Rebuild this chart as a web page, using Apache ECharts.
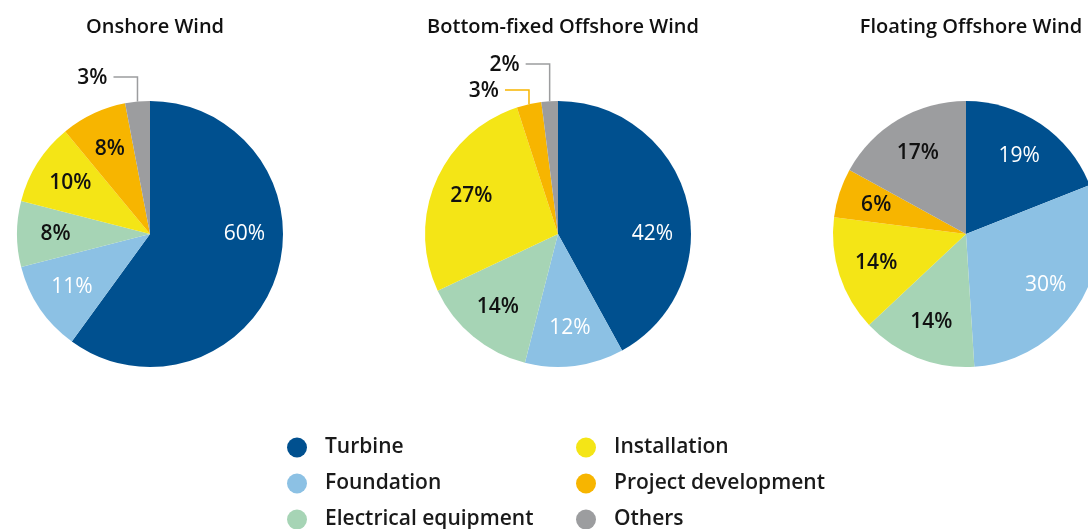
<!DOCTYPE html>
<html>
<head>
<meta charset="utf-8">
<title>Wind cost breakdown</title>
<script src="https://cdn.jsdelivr.net/npm/echarts@6/dist/echarts.min.js"></script>
<style>
  html, body { margin: 0; padding: 0; background: #fff; }
  #chart { width: 1088px; height: 529px; }
</style>
</head>
<body>
<div id="chart"></div>
<script>
const categories = ['Turbine', 'Foundation', 'Electrical equipment', 'Installation', 'Project development', 'Others'];
const onshore = [60, 11, 8, 10, 8, 3];
const bottomFixed = [42, 12, 14, 27, 3, 2];
const floating = [19, 30, 14, 14, 6, 17];
const titles = ['Onshore Wind', 'Bottom-fixed Offshore Wind', 'Floating Offshore Wind'];
const colors = ['#00508f', '#8cc1e4', '#a6d4b5', '#f4e516', '#f7b500', '#9c9d9f'];

const FONT = '"Open Sans", sans-serif';
const R = 133;
const centers = [[150, 234], [558, 234], [966, 234]];
const seriesValues = [onshore, bottomFixed, floating];

// angles clockwise from 12 o'clock
function sliceAngles(values, i) {
  const total = values.reduce((a, b) => a + b, 0);
  let start = 0;
  for (let k = 0; k < i; k++) start += values[k];
  return [start / total * 360, (start + values[i]) / total * 360];
}
function polar(c, r, deg) {
  const a = deg * Math.PI / 180;
  return [c[0] + r * Math.sin(a), c[1] - r * Math.cos(a)];
}
const isSmall = v => v < 5;

function layoutLabel(params) {
  const values = seriesValues[params.seriesIndex];
  const c = centers[params.seriesIndex];
  const i = params.dataIndex;
  const [a0, a1] = sliceAngles(values, i);
  let mid = (a0 + a1) / 2;
  if (!isSmall(values[i])) {
    // big slice spanning 3 o'clock: label sits level with the centre
    if (a1 - a0 > 140 && a0 < 90 && a1 > 90) mid = 90;
    const p = polar(c, R * 0.71, mid);
    return { x: p[0], y: p[1], align: 'center', verticalAlign: 'middle' };
  }
  // small slices: label above the pie, elbow line down to the arc
  const small = values.map((v, k) => k).filter(k => isSmall(values[k]));
  const j = small.indexOf(i);
  const lift = 24 + 13 * (2 * j - (small.length - 1));
  const edge = polar(c, R, mid);
  const y = c[1] - R - lift;
  return {
    x: edge[0] - 30, y: y + 1, align: 'right', verticalAlign: 'middle',
    labelLinePoints: [edge, [edge[0], y], [edge[0] - 24, y]]
  };
}

const series = seriesValues.map((values, s) => ({
  type: 'pie',
  center: centers[s],
  radius: [0, R],
  startAngle: 90,
  clockwise: true,
  avoidLabelOverlap: false,
  silent: true,
  itemStyle: { borderWidth: 0 },
  label: { formatter: '{c}%', fontSize: 21, fontFamily: FONT },
  labelLayout: layoutLabel,
  data: values.map((v, i) => ({
    name: categories[i],
    value: v,
    itemStyle: { color: colors[i] },
    label: {
      position: isSmall(v) ? 'outside' : 'inside',
      color: i < 2 ? '#ffffff' : '#111111',
      fontWeight: i < 2 ? 400 : 600
    },
    labelLine: { show: isSmall(v), lineStyle: { width: 1.5 } }
  }))
}));

const legendBase = {
  orient: 'vertical',
  top: 437,
  height: 100,
  padding: 0,
  icon: 'circle',
  itemWidth: 20,
  itemHeight: 20,
  itemGap: 15,
  selectedMode: false,
  textStyle: { fontSize: 21, fontWeight: 600, color: '#1a1a1a', fontFamily: FONT, padding: [0, 0, 0, 13] }
};

const chart = echarts.init(document.getElementById('chart'));
chart.setOption({
  animation: false,
  backgroundColor: '#ffffff',
  title: titles.map((t, s) => ({
    text: t,
    left: centers[s][0],
    top: 12,
    textAlign: 'center',
    textStyle: { fontSize: 20, fontWeight: 600, color: '#111111', fontFamily: FONT }
  })),
  legend: [
    Object.assign({}, legendBase, { left: 287, data: categories.slice(0, 3) }),
    Object.assign({}, legendBase, { left: 576, data: categories.slice(3) })
  ],
  series: series
});
</script>
</body>
</html>
